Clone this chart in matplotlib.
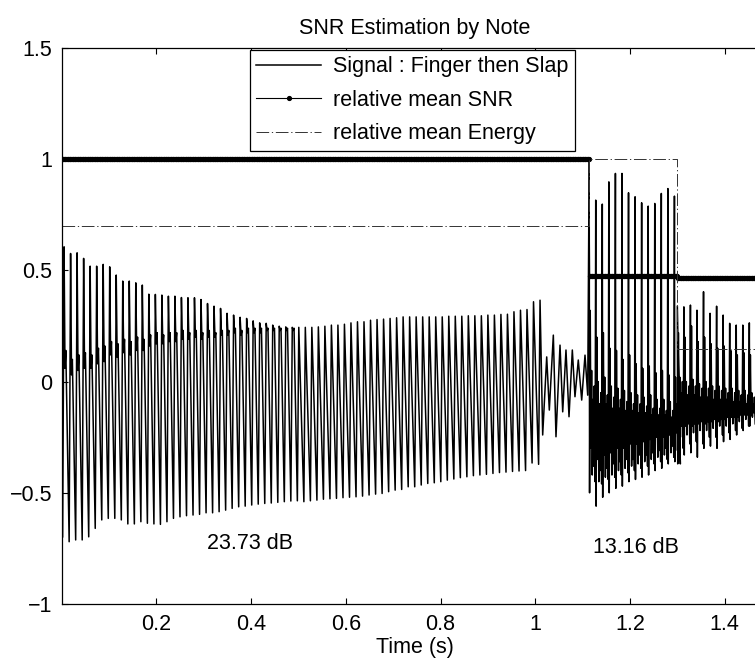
import numpy as np
import matplotlib
matplotlib.use("Agg")
import matplotlib.pyplot as plt
from matplotlib.ticker import FuncFormatter

plt.rcParams["font.family"] = ["Liberation Sans", "DejaVu Sans"]

# ---------------- per-note statistics ----------------
note_edges = [0.0, 1.114, 1.300, 1.49]
snr_rel = [1.0, 0.474, 0.464]
energy_rel = [0.70, 1.0, 0.148]
snr_db_text = ["23.73 dB", "13.16 dB"]
snr_db_x = [0.307, 1.122]
snr_db_y = [-0.726, -0.748]

# ---------------- note 1 (finger), one value per period ----------------
n1_start = 0.005
n1_period = 0.01377
n1_peak = [0.606, 0.576, 0.579, 0.554, 0.519, 0.519, 0.527, 0.516, 0.479, 0.452,
           0.452, 0.444, 0.434, 0.393, 0.392, 0.389, 0.384, 0.384, 0.378, 0.377,
           0.377, 0.369, 0.351, 0.339, 0.329, 0.307, 0.299, 0.289, 0.284, 0.273,
           0.264, 0.262, 0.254, 0.249, 0.246, 0.244, 0.244,
           0.244, 0.244, 0.246, 0.249, 0.254, 0.254, 0.258, 0.264, 0.269, 0.269,
           0.276, 0.279, 0.281, 0.284, 0.287, 0.291, 0.291, 0.291, 0.291, 0.291,
           0.291, 0.291, 0.294, 0.294, 0.294, 0.296, 0.296, 0.296, 0.299, 0.299,
           0.302, 0.303, 0.314, 0.321, 0.324, 0.359, 0.366]
n1_trough = [-0.698, -0.720, -0.712, -0.712, -0.698, -0.660, -0.622, -0.615, -0.615, -0.622,
             -0.640, -0.640, -0.630, -0.637, -0.640, -0.642, -0.630, -0.615, -0.608, -0.603,
             -0.600, -0.597, -0.590, -0.590, -0.585, -0.578, -0.570, -0.563, -0.560, -0.555,
             -0.551, -0.548, -0.546, -0.543, -0.540, -0.537, -0.536,
             -0.540, -0.536, -0.533, -0.529, -0.527, -0.525, -0.522, -0.520, -0.518, -0.515,
             -0.510, -0.506, -0.503, -0.495, -0.488, -0.485, -0.473, -0.473, -0.465, -0.458,
             -0.455, -0.450, -0.443, -0.438, -0.432, -0.428, -0.423, -0.420, -0.417, -0.413,
             -0.409, -0.407, -0.404, -0.402, -0.400, -0.366, -0.372]
n1_notch = [0.06, 0.03, 0.05, 0.06, 0.06, 0.08, 0.09,
            0.12, 0.11, 0.13, 0.12, 0.14, 0.14,
            0.16, 0.17, 0.17, 0.18, 0.18, 0.19, 0.19, 0.20, 0.19, 0.20,
            0.20, 0.21, 0.21, 0.22, 0.21, 0.22, 0.22, 0.22, 0.23, 0.23, 0.23, 0.23, 0.23]
n1_shoulder = [0.14, 0.10, 0.12, 0.13, 0.12, 0.15, 0.16,
               0.18, 0.17, 0.19, 0.18, 0.20, 0.19,
               0.21, 0.22, 0.21, 0.22, 0.22, 0.23, 0.22, 0.23, 0.22, 0.23,
               0.22, 0.23, 0.23, 0.24, 0.23, 0.24, 0.24, 0.24, 0.24, 0.24, 0.24, 0.24, 0.24]

# decaying ring between the two notes
tail_t = [1.0158, 1.0243, 1.0298, 1.0383, 1.0439, 1.0524, 1.0581, 1.0650,
          1.0714, 1.0784, 1.0840, 1.0910, 1.0982, 1.1052, 1.1109]
tail_v = [-0.240, 0.111, -0.128, 0.209, -0.248, 0.164, -0.136, 0.142,
          -0.158, 0.142, -0.068, 0.097, -0.083, 0.119, -0.061]

# ---------------- note 2 (slap) ----------------
n2_start = 1.114
n2_period = 0.01385
n2_peak = [0.995, 0.816, 0.798, 0.898, 0.936, 0.936, 0.849, 0.831, 0.804, 0.789, 0.801, 0.846, 0.868, 0.834]
n2_trough = [-0.50, -0.56, -0.52, -0.50, -0.48, -0.47, -0.45, -0.44, -0.43, -0.42, -0.40, -0.39, -0.37, -0.36]
n2_bump = [0.32, 0.20, 0.22, 0.15, 0.14, 0.10, 0.12, 0.08, 0.06, 0.07, 0.04, 0.05, 0.03, 0.02]
n2_low1 = [-0.30, -0.35, -0.33, -0.32, -0.30, -0.30, -0.28, -0.28, -0.27, -0.26, -0.25, -0.25, -0.24, -0.23]
n2_high1 = [0.05, 0.00, 0.02, -0.02, -0.03, -0.04, -0.05, -0.06, -0.07, -0.06, -0.08, -0.08, -0.09, -0.10]
n2_low2 = [-0.42, -0.45, -0.43, -0.42, -0.40, -0.39, -0.38, -0.37, -0.36, -0.35, -0.34, -0.33, -0.32, -0.31]
n2_high2 = [-0.08, -0.10, -0.10, -0.12, -0.12, -0.13, -0.13, -0.14, -0.14, -0.15, -0.15, -0.15, -0.16, -0.16]
n2_low3 = [-0.38, -0.40, -0.39, -0.37, -0.36, -0.35, -0.35, -0.33, -0.33, -0.32, -0.31, -0.30, -0.29, -0.28]
n2_high3 = [-0.02, -0.05, -0.06, -0.07, -0.08, -0.09, -0.10, -0.10, -0.11, -0.12, -0.12, -0.13, -0.13, -0.14]
n2_prelow = [-0.45, -0.46, -0.44, -0.43, -0.42, -0.41, -0.40, -0.39, -0.38, -0.37, -0.36, -0.35, -0.34, -0.37]

# ---------------- note 3 ----------------
n3_start = 1.3002
n3_period = 0.01382
n3_peak = [0.34, 0.336, 0.344, 0.321, 0.404, 0.307, 0.339, 0.299, 0.262, 0.254, 0.254, 0.264]
n3_trough = [-0.37, -0.33, -0.32, -0.34, -0.30, -0.29, -0.30, -0.27, -0.26, -0.24, -0.22, -0.20]
n3_bump = [0.22, 0.20, 0.25, 0.18, 0.20, 0.17, 0.15, 0.16, 0.14, 0.12, 0.13, 0.12]
n3_low1 = [-0.22, -0.20, -0.20, -0.19, -0.19, -0.18, -0.18, -0.17, -0.16, -0.16, -0.15, -0.15]
n3_high1 = [0.02, 0.00, 0.01, -0.01, 0.00, -0.02, -0.02, -0.03, -0.03, -0.04, -0.04, -0.05]
n3_low2 = [-0.25, -0.24, -0.23, -0.22, -0.22, -0.21, -0.20, -0.20, -0.19, -0.18, -0.17, -0.16]
n3_high2 = [-0.05, -0.06, -0.06, -0.07, -0.07, -0.08, -0.08, -0.08, -0.09, -0.09, -0.10, -0.10]
n3_low3 = [-0.20, -0.19, -0.19, -0.18, -0.18, -0.17, -0.17, -0.16, -0.16, -0.15, -0.15, -0.14]
n3_high3 = [0.00, -0.02, -0.02, -0.03, -0.03, -0.04, -0.04, -0.05, -0.05, -0.06, -0.06, -0.07]
n3_prelow = [-0.30, -0.28, -0.27, -0.28, -0.25, -0.25, -0.24, -0.23, -0.22, -0.21, -0.20, -0.19]


def periodic(start, period, phases, series):
    """Lay out per-period turning points: series[j][k] sits at start + (k + phases[j]) * period."""
    t, v = [], []
    for k in range(len(series[0])):
        for ph, s in zip(phases, series):
            if k < len(s):
                t.append(start + (k + ph) * period)
                v.append(s[k])
    return t, v


# note 1: trough just before each peak, then notch/shoulder while it falls
t1, v1 = [], []
for k in range(len(n1_peak)):
    base = n1_start + k * n1_period
    t1.append(base - 0.22 * n1_period); v1.append(n1_trough[k])
    t1.append(base); v1.append(n1_peak[k])
    if k < len(n1_shoulder):
        t1.append(base + 0.14 * n1_period); v1.append(n1_notch[k])
        t1.append(base + 0.27 * n1_period); v1.append(n1_shoulder[k])

slap_phases = [0.0, 0.06, 0.16, 0.27, 0.37, 0.47, 0.57, 0.67, 0.77, 0.90]
t2, v2 = periodic(n2_start, n2_period, slap_phases,
                  [n2_peak, n2_trough, n2_bump, n2_low1, n2_high1, n2_low2,
                   n2_high2, n2_low3, n2_high3, n2_prelow])
t3, v3 = periodic(n3_start, n3_period, slap_phases,
                  [n3_peak, n3_trough, n3_bump, n3_low1, n3_high1, n3_low2,
                   n3_high2, n3_low3, n3_high3, n3_prelow])

sig_t = np.array(t1 + tail_t + t2 + t3)
sig_v = np.array(v1 + tail_v + v2 + v3)

# per-note statistics held over the time axis
t_grid = np.arange(0.0005, note_edges[-1], 0.0015)
note_idx = np.clip(np.searchsorted(note_edges, t_grid, side="right") - 1, 0, len(snr_rel) - 1)
snr_curve = np.array(snr_rel)[note_idx]

FS = 15.5
fig = plt.figure(figsize=(7.55, 6.59), dpi=100)
W, H = 755.0, 659.0
x_scale = 473.5
ax = fig.add_axes([61.7 / W, 1 - 604 / H, note_edges[-1] * x_scale / W, 556 / H])

ax.plot(sig_t, sig_v, color="black", lw=1.1, label="Signal : Finger then Slap")
ax.plot(t_grid, snr_curve, color="black", lw=0.8, marker=".", markersize=5.5,
        label="relative mean SNR")
ax.plot(note_edges, energy_rel + [energy_rel[-1]], drawstyle="steps-post",
        color="#333333", lw=0.7, dashes=(13, 2.8, 1.3, 2.8), label="relative mean Energy")

for s, x, y in zip(snr_db_text, snr_db_x, snr_db_y):
    ax.text(x, y, s, fontsize=FS, ha="left", va="center")

ax.set_xlim(0, note_edges[-1])
ax.set_ylim(-1, 1.5)
ax.set_xticks([0.2, 0.4, 0.6, 0.8, 1.0, 1.2, 1.4])
ax.set_yticks([-1, -0.5, 0, 0.5, 1, 1.5])
fmt = FuncFormatter(lambda v, p: ("%g" % v).replace("-", "\u2212"))
ax.xaxis.set_major_formatter(fmt)
ax.yaxis.set_major_formatter(fmt)
ax.tick_params(direction="in", length=4.5, width=0.8, labelsize=FS, pad=7,
               top=True, right=True)
for sp in ax.spines.values():
    sp.set_linewidth(0.9)

ax.set_xlabel("Time (s)", fontsize=FS, labelpad=2)
ax.set_title("SNR Estimation by Note", fontsize=FS, pad=10)

leg = ax.legend(loc="upper left", bbox_to_anchor=(250 / W, 1 - 50 / H),
                bbox_transform=fig.transFigure, borderaxespad=0, fontsize=FS,
                frameon=True, fancybox=False, edgecolor="black", framealpha=1,
                handlelength=3.0, handletextpad=0.55, labelspacing=0.58,
                borderpad=0.3)
leg.get_frame().set_linewidth(0.9)

fig.savefig("out.png", dpi=100)
